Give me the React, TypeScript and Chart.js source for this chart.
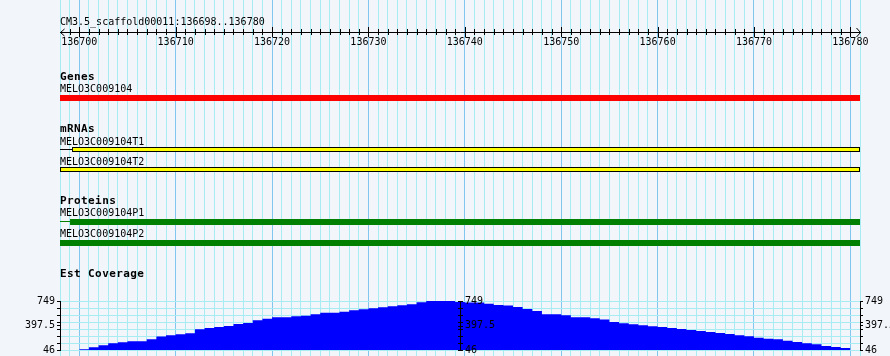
import React, { useEffect, useRef } from 'react';
import { Chart, registerables } from 'chart.js';

Chart.register(...registerables);

// ---------------- data ----------------
const regionName = 'CM3.5_scaffold00011';
const viewStart = 136698;
const viewEnd = 136780; // inclusive
const rulerLabels = [136700, 136710, 136720, 136730, 136740, 136750, 136760, 136770, 136780];

const trackTitles = ['Genes', 'mRNAs', 'Proteins', 'Est Coverage'];

const geneNames = ['MELO3C009104'];
const geneStarts = [136698];
const geneEnds = [136781];

const mrnaNames = ['MELO3C009104T1', 'MELO3C009104T2'];
const mrnaStarts = [136698, 136698];
const mrnaBlockStarts = [136699.25, 136698];
const mrnaEnds = [136781, 136781];

const proteinNames = ['MELO3C009104P1', 'MELO3C009104P2'];
const proteinStarts = [136698, 136698];
const proteinBlockStarts = [136699.04, 136698];
const proteinEnds = [136781, 136781];

const coverageStart = 136700;
const coverageValues = [
  56, 85, 113, 142, 156, 171, 171, 200, 238, 257,
  271, 286, 343, 362, 376, 391, 419, 434, 472, 496,
  515, 515, 529, 539, 558, 582, 582, 596, 616, 630,
  644, 659, 673, 687, 702, 730, 749, 749, 749, 735,
  726, 726, 711, 692, 683, 663, 635, 606, 558, 558,
  544, 515, 515, 501, 482, 448, 429, 415, 400, 386,
  376, 362, 348, 333, 319, 305, 290, 276, 257, 243,
  223, 209, 200, 180, 161, 142, 128, 104, 89, 75,
];
const coverageMin = 46;
const coverageMax = 749;
const coverageMid = 397.5;
const coverageGridDivisions = 7;

// ---------------- layout / style ----------------
const W = 890;
const H = 356;
const PLOT_LEFT = 60;
const PLOT_RIGHT_MARGIN = 30;
const RULER_Y = 32;
const TITLE_BASE = 25;
const GENE_TITLE_BASE = 80;
const GENE_LABEL_BASE = [92];
const GENE_BAR_Y = [98];
const MRNA_TITLE_BASE = 132;
const MRNA_LABEL_BASE = [145, 165];
const MRNA_BAR_Y = [149.5, 169.5];
const PROT_TITLE_BASE = 204;
const PROT_LABEL_BASE = [216, 237];
const PROT_BAR_Y = [222, 243];
const PROT_LINE_Y = [221.5, 243];
const COV_TITLE_BASE = 277;
const COV_TOP_PX = 301;
const COV_BOTTOM_PX = 350;

const BG = '#f2f5fa';
const GRID_MINOR = '#a6ecf2';
const GRID_MAJOR = '#80c6ee';
const FONT = '"DejaVu Sans Mono", monospace';

// coverage scale range so that coverageMin/Max land on the chosen pixel rows
const covRange = (() => {
  const R = ((coverageMax - coverageMin) * H) / (COV_BOTTOM_PX - COV_TOP_PX);
  const min = coverageMin - ((H - COV_BOTTOM_PX) / H) * R;
  return { min, max: min + R };
})();

const covTickValues = (() => {
  const vals: number[] = [];
  for (let k = 0; k <= coverageGridDivisions; k++) {
    vals.push(coverageMin + ((coverageMax - coverageMin) * k) / coverageGridDivisions);
  }
  vals.push(coverageMid);
  return vals.sort((a, b) => a - b);
})();
const covLabelValues = [coverageMin, coverageMid, coverageMax];

const coveragePoints = coverageValues.map((v, i) => ({ x: coverageStart + i, y: v }));
coveragePoints.push({
  x: coverageStart + coverageValues.length,
  y: coverageValues[coverageValues.length - 1],
});

function zeroPad(s: any) {
  s.paddingLeft = 0;
  s.paddingRight = 0;
  s.paddingTop = 0;
  s.paddingBottom = 0;
}

const decorPlugin = {
  id: 'gbrowseDecor',
  afterDraw(chart: any) {
    const ctx = chart.ctx as CanvasRenderingContext2D;
    const xs = chart.scales.x;
    const cov = chart.scales.cov;
    ctx.save();
    ctx.fillStyle = '#000';
    ctx.strokeStyle = '#000';
    ctx.lineWidth = 1;

    // ruler ticks
    for (let v = viewStart + 1; v <= viewEnd; v++) {
      const px = Math.round(xs.getPixelForValue(v));
      if (v % 10 === 0) ctx.fillRect(px, RULER_Y - 5, 1, 10);
      else ctx.fillRect(px, RULER_Y - 3, 1, 6);
    }
    const l = xs.getPixelForValue(viewStart);
    const r = xs.getPixelForValue(viewEnd + 1);
    ctx.beginPath();
    ctx.moveTo(l + 4.5, RULER_Y - 3);
    ctx.lineTo(l + 0.5, RULER_Y + 0.5);
    ctx.lineTo(l + 4.5, RULER_Y + 4);
    ctx.moveTo(r - 3.5, RULER_Y - 4);
    ctx.lineTo(r + 0.5, RULER_Y + 0.5);
    ctx.lineTo(r - 3.5, RULER_Y + 5);
    ctx.stroke();

    // coverage axis lines
    const yTop = Math.round(cov.getPixelForValue(coverageMax));
    const yBot = Math.round(cov.getPixelForValue(coverageMin));
    const mid = Math.round((l + r) / 2);
    [Math.round(l), mid, Math.round(r)].forEach((px) => ctx.fillRect(px, yTop, 1, yBot - yTop + 1));
    covTickValues.forEach((v) => {
      const py = Math.round(cov.getPixelForValue(v));
      ctx.fillRect(mid - 2, py, 5, 1);
    });
    ctx.font = '10px ' + FONT;
    ctx.textAlign = 'left';
    ctx.textBaseline = 'middle';
    covLabelValues.forEach((v) => ctx.fillText(String(v), mid + 5, cov.getPixelForValue(v)));

    // texts
    ctx.textBaseline = 'alphabetic';
    const x0 = PLOT_LEFT;
    const normal = (t: string, y: number) => {
      ctx.font = '10px ' + FONT;
      (ctx as any).letterSpacing = '0px';
      ctx.fillText(t, x0, y);
    };
    const bold = (t: string, y: number) => {
      ctx.font = 'bold 11px ' + FONT;
      (ctx as any).letterSpacing = '0.4px';
      ctx.fillText(t, x0, y);
      (ctx as any).letterSpacing = '0px';
    };
    normal(`${regionName}:${viewStart}..${viewEnd}`, TITLE_BASE);
    bold(trackTitles[0], GENE_TITLE_BASE);
    geneNames.forEach((n, i) => normal(n, GENE_LABEL_BASE[i]));
    bold(trackTitles[1], MRNA_TITLE_BASE);
    mrnaNames.forEach((n, i) => normal(n, MRNA_LABEL_BASE[i]));
    bold(trackTitles[2], PROT_TITLE_BASE);
    proteinNames.forEach((n, i) => normal(n, PROT_LABEL_BASE[i]));
    bold(trackTitles[3], COV_TITLE_BASE);
    ctx.restore();
  },
};

function buildConfig(): any {
  const connectorSets: any[] = [];
  mrnaNames.forEach((_, i) => {
    if (mrnaBlockStarts[i] > mrnaStarts[i]) {
      connectorSets.push({
        type: 'line',
        xAxisID: 'x',
        yAxisID: 'row',
        data: [
          { x: mrnaStarts[i], y: MRNA_BAR_Y[i] },
          { x: mrnaBlockStarts[i], y: MRNA_BAR_Y[i] },
        ],
        borderColor: '#000000',
        borderWidth: 1,
        pointRadius: 0,
        fill: false,
      });
    }
  });
  proteinNames.forEach((_, i) => {
    if (proteinBlockStarts[i] > proteinStarts[i]) {
      connectorSets.push({
        type: 'line',
        xAxisID: 'x',
        yAxisID: 'row',
        data: [
          { x: proteinStarts[i], y: PROT_LINE_Y[i] },
          { x: proteinBlockStarts[i], y: PROT_LINE_Y[i] },
        ],
        borderColor: '#008000',
        borderWidth: 1,
        pointRadius: 0,
        fill: false,
      });
    }
  });

  const barCommon = {
    type: 'bar',
    indexAxis: 'y',
    xAxisID: 'x',
    yAxisID: 'row',
    grouped: false,
    borderSkipped: false,
    inflateAmount: 0,
  };

  return {
    type: 'line',
    data: {
      datasets: [
        {
          ...barCommon,
          label: trackTitles[0],
          data: geneNames.map((_, i) => ({ x: [geneStarts[i], geneEnds[i]], y: GENE_BAR_Y[i] })),
          backgroundColor: '#ff0000',
          borderWidth: 0,
          barThickness: 6,
          maxBarThickness: 6,
        },
        {
          ...barCommon,
          label: trackTitles[1],
          data: mrnaNames.map((_, i) => ({ x: [mrnaBlockStarts[i], mrnaEnds[i]], y: MRNA_BAR_Y[i] })),
          backgroundColor: '#ffff00',
          borderColor: '#000000',
          borderWidth: 1,
          barThickness: 5,
          maxBarThickness: 5,
        },
        {
          ...barCommon,
          label: trackTitles[2],
          data: proteinNames.map((_, i) => ({ x: [proteinBlockStarts[i], proteinEnds[i]], y: PROT_BAR_Y[i] })),
          backgroundColor: '#008000',
          borderWidth: 0,
          barThickness: 6,
          maxBarThickness: 6,
        },
        ...connectorSets,
        {
          type: 'line',
          label: trackTitles[3],
          xAxisID: 'x',
          yAxisID: 'cov',
          data: coveragePoints,
          stepped: 'before',
          fill: { value: coverageMin },
          backgroundColor: '#0000ff',
          borderColor: 'rgba(0,0,0,0)',
          borderWidth: 0,
          pointRadius: 0,
        },
      ],
    },
    options: {
      responsive: false,
      animation: false,
      devicePixelRatio: 1,
      layout: { padding: 0 },
      events: [],
      plugins: { legend: { display: false }, tooltip: { enabled: false } },
      scales: {
        x: {
          type: 'linear',
          axis: 'x',
          position: 'bottom',
          offset: false,
          beginAtZero: false,
          min: viewStart,
          max: viewEnd + 1,
          afterBuildTicks: (s: any) => {
            const t = [];
            for (let v = viewStart; v <= viewEnd + 1; v++) t.push({ value: v });
            s.ticks = t;
          },
          ticks: { display: false },
          grid: {
            offset: false,
            drawTicks: false,
            lineWidth: 1,
            color: (c: any) => (c.tick && c.tick.value % 10 === 0 ? GRID_MAJOR : GRID_MINOR),
          },
          border: { display: false },
          afterFit: (s: any) => {
            s.height = 0;
            zeroPad(s);
          },
        },
        ruler: {
          type: 'linear',
          axis: 'x',
          position: { row: RULER_Y },
          offset: false,
          min: viewStart,
          max: viewEnd + 1,
          afterBuildTicks: (s: any) => {
            s.ticks = rulerLabels.map((v) => ({ value: v }));
          },
          ticks: {
            autoSkip: false,
            maxRotation: 0,
            padding: 4,
            color: '#000',
            font: { family: FONT, size: 10 },
            callback: (v: any) => String(v),
          },
          grid: { display: true, drawOnChartArea: false, drawTicks: false, offset: false },
          border: { display: true, color: '#000', width: 1 },
          afterFit: (s: any) => zeroPad(s),
        },
        row: {
          type: 'linear',
          axis: 'y',
          display: false,
          offset: false,
          grid: { offset: false },
          min: 0,
          max: H,
          reverse: true,
        },
        cov: {
          type: 'linear',
          axis: 'y',
          position: 'left',
          offset: false,
          min: covRange.min,
          max: covRange.max,
          afterBuildTicks: (s: any) => {
            s.ticks = covTickValues.map((v) => ({ value: v }));
          },
          ticks: {
            autoSkip: false,
            padding: 2,
            color: '#000',
            font: { family: FONT, size: 10 },
            callback: (v: any) => (covLabelValues.includes(v) ? String(v) : ''),
          },
          grid: {
            drawOnChartArea: true,
            tickLength: 3,
            tickColor: '#000',
            color: (c: any) => (c.tick && c.tick.value === coverageMid ? 'rgba(0,0,0,0)' : GRID_MINOR),
          },
          border: { display: false },
          afterFit: (s: any) => {
            s.width = PLOT_LEFT;
            zeroPad(s);
          },
        },
        covR: {
          type: 'linear',
          axis: 'y',
          position: 'right',
          offset: false,
          min: covRange.min,
          max: covRange.max,
          afterBuildTicks: (s: any) => {
            s.ticks = covTickValues.map((v) => ({ value: v }));
          },
          ticks: {
            autoSkip: false,
            padding: 2,
            color: '#000',
            font: { family: FONT, size: 10 },
            callback: (v: any) => (covLabelValues.includes(v) ? String(v) : ''),
          },
          grid: { drawOnChartArea: false, tickLength: 3, tickColor: '#000' },
          border: { display: false },
          afterFit: (s: any) => {
            s.width = PLOT_RIGHT_MARGIN;
            zeroPad(s);
          },
        },
      },
    },
    plugins: [decorPlugin],
  };
}

export default function App() {
  const ref = useRef<HTMLCanvasElement | null>(null);
  useEffect(() => {
    document.body.style.margin = '0';
    const chart = new Chart(ref.current as HTMLCanvasElement, buildConfig());
    return () => chart.destroy();
  }, []);
  return (
    <div style={{ width: W, height: H, background: BG }}>
      <canvas ref={ref} width={W} height={H} style={{ display: 'block' }} />
    </div>
  );
}
